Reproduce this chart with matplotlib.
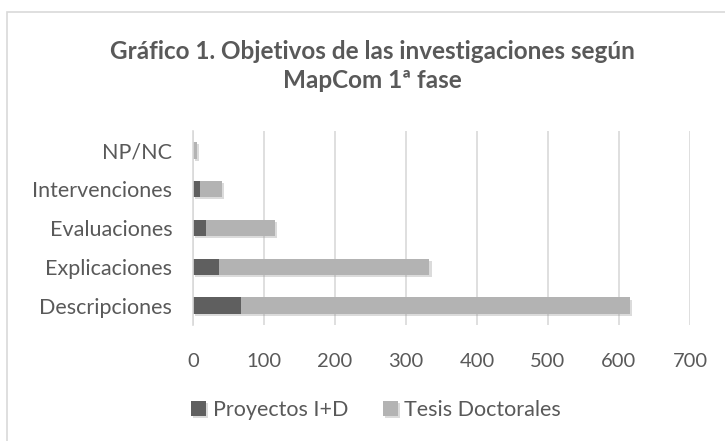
import matplotlib.pyplot as plt
import matplotlib.patheffects as pe
from matplotlib.patches import Rectangle
import numpy as np

plt.rcParams['font.family'] = ['Lato', 'DejaVu Sans']

categorias = ["Descripciones", "Explicaciones", "Evaluaciones", "Intervenciones", "NP/NC"]
proyectos = [68, 37, 18, 10, 0]
tesis = [548, 296, 97, 31, 5]
ticks = [0, 100, 200, 300, 400, 500, 600, 700]

text_color = '#595959'
dark = '#5f5f5f'
light = '#b3b3b3'

fig = plt.figure(figsize=(7.25, 4.41), dpi=100)

# outer chart frame (like the Excel chart area)
fig.patches.append(Rectangle((7 / 725, -0.1), 1.2, 1 - 12 / 441 + 0.1,
                             transform=fig.transFigure, fill=False,
                             edgecolor='#d9d9d9', linewidth=1.2))

ax = fig.add_axes([193 / 725, 1 - 325 / 441, 497 / 725, 194 / 441])

y = np.arange(len(categorias))
shadow = [pe.SimplePatchShadow(offset=(1.5, -1.5), shadow_rgbFace='#999999', alpha=0.35), pe.Normal()]
ax.barh(y, proyectos, height=0.42, color=dark, label='Proyectos I+D', path_effects=shadow)
ax.barh(y, tesis, left=proyectos, height=0.42, color=light, label='Tesis Doctorales', path_effects=shadow)

ax.set_xlim(0, 700)
ax.set_ylim(-0.5, len(categorias) - 0.5)
ax.set_xticks(ticks)
ax.set_yticks(y)
ax.set_yticklabels(categorias)
ax.tick_params(axis='both', length=0, colors=text_color)
ax.tick_params(axis='x', pad=20, labelsize=14.5)
ax.tick_params(axis='y', pad=15, labelsize=15.5)

ax.grid(axis='x', color='#d9d9d9', linewidth=1.2)
ax.set_axisbelow(True)
for s in ['top', 'right', 'bottom']:
    ax.spines[s].set_visible(False)
ax.spines['left'].set_color('#d9d9d9')
ax.spines['left'].set_linewidth(1.2)

fig.text(372 / 725, 1 - 66 / 441, 'Gráfico 1. Objetivos de las investigaciones según\nMapCom 1ª fase',
         ha='center', va='center', fontsize=17.5, fontweight='bold', color=text_color, linespacing=1.3)

fig.legend(loc='center', bbox_to_anchor=(376 / 725, 1 - 410 / 441), ncol=2, frameon=False,
           fontsize=15.5, labelcolor=text_color, handlelength=0.7, handleheight=0.7,
           handletextpad=0.3, columnspacing=1.6)

plt.savefig('out.png', dpi=100)
